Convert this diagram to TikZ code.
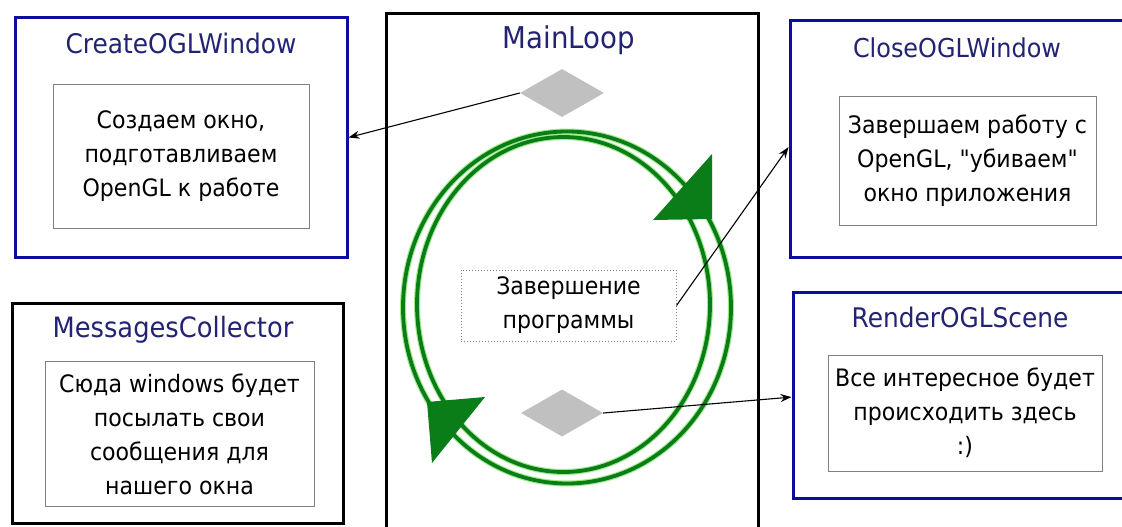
\documentclass[tikz,border=0pt]{standalone}
\usepackage{fontspec}
\setmainfont{DejaVu Sans}[FakeStretch=0.92,Ligatures=TeXOff]
\usetikzlibrary{shapes.geometric,arrows.meta,calc}
\definecolor{boxblue}{RGB}{12,12,160}
\definecolor{titleblue}{RGB}{35,35,115}
\definecolor{loopgreen}{RGB}{10,125,25}
\definecolor{loophalo}{RGB}{160,235,140}
\definecolor{innergray}{RGB}{128,128,128}
\definecolor{diagray}{RGB}{192,192,192}
\begin{document}
\begin{tikzpicture}[x=1pt,y=-1pt,
  bluebox/.style={draw=boxblue,line width=3pt,rectangle,inner sep=0pt},
  blackbox/.style={draw=black,line width=3pt,rectangle,inner sep=0pt},
  innerbox/.style={draw=innergray,line width=0.9pt,rectangle,inner sep=0pt,align=center,font=\fontsize{24}{34}\selectfont},
  titletext/.style={text=titleblue,font=\fontsize{27}{30}\selectfont,inner sep=0pt,anchor=base},
  dia/.style={diamond,fill=diagray,inner sep=0pt,minimum width=84pt,minimum height=48pt,aspect=1.75},
  conn/.style={draw=black,line width=1.1pt,-{Stealth[length=11pt,width=8pt]}},
  loopline/.style={draw=loopgreen,line width=3.8pt},
  loophaloline/.style={draw=loophalo,line width=6pt},
  looptip/.style={fill=loopgreen},
]
\useasboundingbox[fill=white] (0,0) rectangle (1122,527);

% CreateOGLWindow
\node[bluebox,minimum width=332pt,minimum height=239pt] (create) at (181,137.5) {};
\node[titletext] (createT) at (181,54) {CreateOGLWindow};
\node[innerbox,minimum width=256pt,minimum height=144pt] (createI) at (181,156) {Создаем окно,\\подготавливаем\\OpenGL к работе};

% MessagesCollector
\node[blackbox,minimum width=331pt,minimum height=220pt] (msg) at (177.5,413) {};
\node[titletext,font=\fontsize{28}{30}\selectfont] (msgT) at (173,337) {MessagesCollector};
\node[innerbox,minimum width=269pt,minimum height=145pt] (msgI) at (179.5,434) {Сюда windows будет\\посылать свои\\сообщения для\\нашего окна};

% MainLoop container (bottom edge lies below the picture)
\draw[black,line width=3pt] (386,527) -- (386,14) -- (758,14) -- (758,527);
\node[titletext,font=\fontsize{30}{32}\selectfont] (mainT) at (569,49) {MainLoop};

% green loop
\draw[loophaloline] (567,307.5) ellipse [x radius=164, y radius=176];
\draw[loophaloline] (563.5,304.5) ellipse [x radius=146.5, y radius=167.5];
\draw[loopline] (567,307.5) ellipse [x radius=164, y radius=176];
\draw[loopline] (563.5,304.5) ellipse [x radius=146.5, y radius=167.5];
\fill[looptip] (712,154) -- (712,219) -- (653,220) -- cycle;
\fill[looptip] (485,397) -- (427,402) -- (432,463) -- cycle;

% diamonds and centre text
\node[dia] (d1) at (562,93) {};
\node[dia,minimum width=82pt,minimum height=47pt] (d2) at (562,413) {};
\node[draw=innergray,dotted,line width=1pt,rectangle,inner sep=0pt,minimum width=215pt,minimum height=71pt,align=center,font=\fontsize{24}{34}\selectfont] (endp) at (568.5,305.5) {Завершение\\программы};

% CloseOGLWindow (right edge lies beyond the picture)
\node[bluebox,minimum width=345pt,minimum height=236pt] (close) at (962.5,139) {};
\node[titletext,font=\fontsize{26}{30}\selectfont] (closeT) at (957,58) {CloseOGLWindow};
\node[innerbox,minimum width=257pt,minimum height=129pt] (closeI) at (967.5,161) {Завершаем работу с\\OpenGL, "убиваем"\\окно приложения};

% RenderOGLScene
\node[bluebox,minimum width=342pt,minimum height=206pt] (render) at (964,395) {};
\node[titletext] (renderT) at (960,327) {RenderOGLScene};
\node[innerbox,minimum width=274pt,minimum height=116pt] (renderI) at (965,413) {Все интересное будет\\происходить здесь\\:)};

% connectors
\draw[conn] (d1.west) -- (create.east);
\draw[conn] (endp.east) -- ($(close.north west)!0.534!(close.south west)$);
\draw[conn] (d2.east) -- ($(render.north west)!0.51!(render.south west)$);
\end{tikzpicture}
\end{document}
